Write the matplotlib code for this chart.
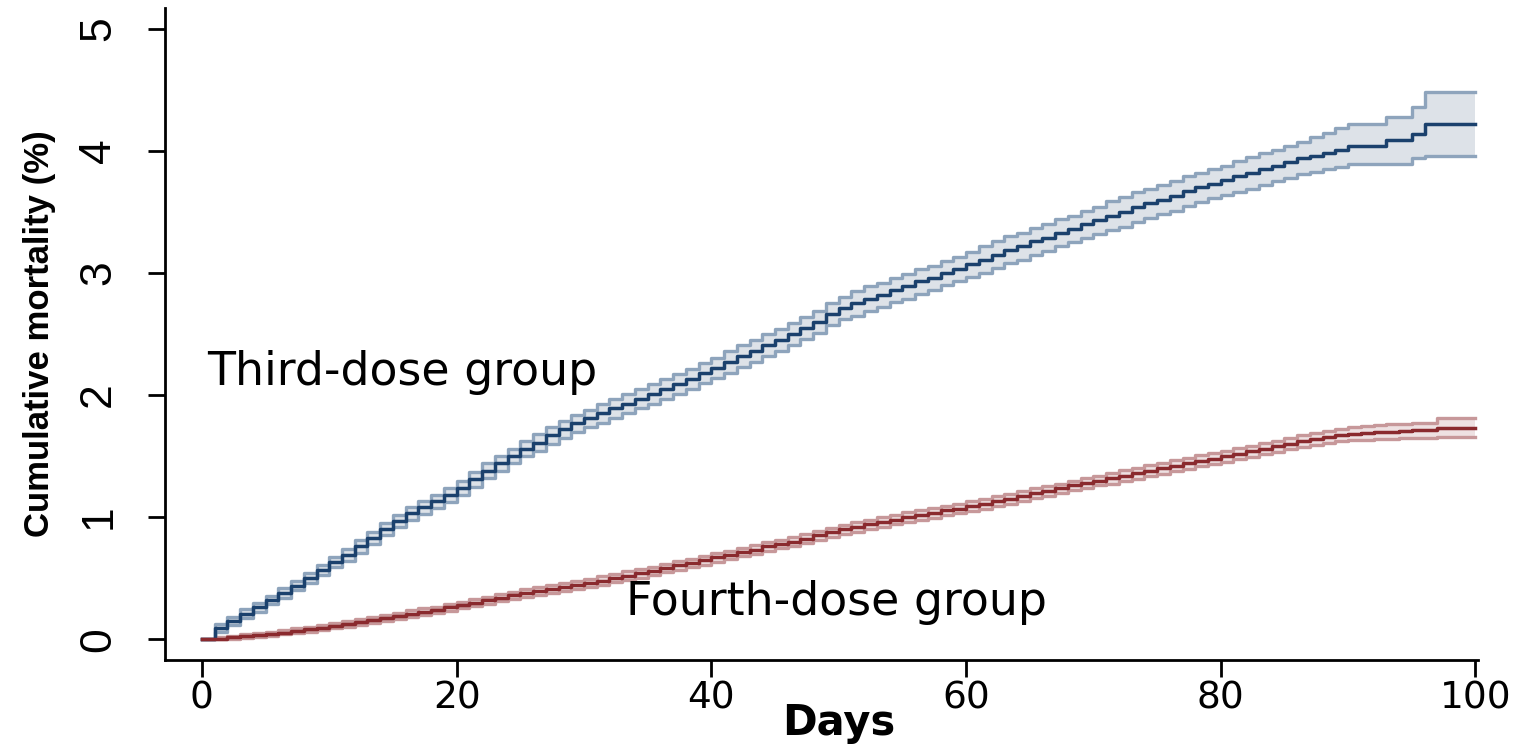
import numpy as np
import matplotlib
matplotlib.use("Agg")
import matplotlib.pyplot as plt
import matplotlib.transforms as mtransforms

# ------------------------------------------------------------
# Data: cumulative mortality (%) by day, step values (day 0..100)
# ------------------------------------------------------------
days = list(range(0, 101))

third_est = [
    0.00, 0.09, 0.15, 0.21, 0.26, 0.32, 0.38, 0.44, 0.50, 0.57,
    0.63, 0.69, 0.76, 0.83, 0.90, 0.97, 1.03, 1.08, 1.13, 1.18,
    1.24, 1.31, 1.38, 1.44, 1.50, 1.56, 1.61, 1.67, 1.72, 1.77,
    1.81, 1.85, 1.89, 1.93, 1.97, 2.01, 2.05, 2.09, 2.13, 2.18,
    2.22, 2.27, 2.32, 2.36, 2.41, 2.45, 2.50, 2.55, 2.60, 2.66,
    2.71, 2.75, 2.79, 2.82, 2.86, 2.89, 2.93, 2.96, 3.00, 3.03,
    3.07, 3.11, 3.15, 3.19, 3.22, 3.26, 3.29, 3.33, 3.36, 3.40,
    3.43, 3.47, 3.50, 3.54, 3.57, 3.60, 3.63, 3.67, 3.70, 3.73,
    3.76, 3.79, 3.82, 3.85, 3.88, 3.91, 3.94, 3.96, 3.98, 4.01,
    4.04, 4.04, 4.04, 4.09, 4.09, 4.14, 4.22, 4.22, 4.22, 4.22, 4.22,
]
third_hi = [
    0.00, 0.125, 0.185, 0.245, 0.295, 0.355, 0.42, 0.48, 0.54, 0.61,
    0.67, 0.74, 0.81, 0.88, 0.95, 1.02, 1.085, 1.135, 1.185, 1.235,
    1.295, 1.37, 1.44, 1.50, 1.56, 1.62, 1.68, 1.74, 1.79, 1.84,
    1.88, 1.93, 1.97, 2.01, 2.05, 2.09, 2.13, 2.17, 2.21, 2.26,
    2.30, 2.36, 2.41, 2.45, 2.50, 2.54, 2.59, 2.64, 2.69, 2.75,
    2.80, 2.85, 2.89, 2.92, 2.96, 2.99, 3.03, 3.06, 3.10, 3.13,
    3.17, 3.22, 3.26, 3.30, 3.33, 3.37, 3.40, 3.44, 3.47, 3.51,
    3.54, 3.59, 3.62, 3.66, 3.69, 3.72, 3.75, 3.79, 3.82, 3.85,
    3.88, 3.92, 3.95, 3.98, 4.01, 4.04, 4.07, 4.11, 4.15, 4.19,
    4.22, 4.22, 4.22, 4.28, 4.28, 4.36, 4.48, 4.48, 4.48, 4.48, 4.48,
]
third_lo = [
    0.00, 0.06, 0.115, 0.175, 0.225, 0.285, 0.34, 0.40, 0.46, 0.53,
    0.59, 0.64, 0.71, 0.78, 0.85, 0.92, 0.975, 1.025, 1.075, 1.125,
    1.185, 1.25, 1.32, 1.38, 1.44, 1.50, 1.54, 1.60, 1.65, 1.70,
    1.74, 1.77, 1.81, 1.85, 1.89, 1.93, 1.97, 2.01, 2.05, 2.10,
    2.14, 2.18, 2.23, 2.27, 2.32, 2.36, 2.41, 2.46, 2.51, 2.57,
    2.62, 2.65, 2.69, 2.72, 2.76, 2.79, 2.83, 2.86, 2.90, 2.93,
    2.97, 3.00, 3.04, 3.08, 3.11, 3.15, 3.18, 3.22, 3.25, 3.29,
    3.32, 3.35, 3.38, 3.42, 3.45, 3.48, 3.51, 3.55, 3.58, 3.61,
    3.64, 3.66, 3.69, 3.72, 3.75, 3.78, 3.81, 3.83, 3.85, 3.87,
    3.89, 3.89, 3.89, 3.89, 3.89, 3.94, 3.96, 3.96, 3.96, 3.96, 3.96,
]

fourth_est = [
    0.00, 0.005, 0.015, 0.025, 0.035, 0.045, 0.055, 0.07, 0.08, 0.095,
    0.11, 0.125, 0.14, 0.16, 0.175, 0.19, 0.21, 0.225, 0.24, 0.26,
    0.28, 0.30, 0.32, 0.34, 0.36, 0.38, 0.395, 0.41, 0.43, 0.445,
    0.46, 0.48, 0.50, 0.52, 0.54, 0.56, 0.585, 0.605, 0.625, 0.645,
    0.67, 0.69, 0.715, 0.735, 0.76, 0.78, 0.80, 0.825, 0.85, 0.875,
    0.90, 0.92, 0.94, 0.96, 0.98, 1.00, 1.015, 1.035, 1.055, 1.07,
    1.09, 1.11, 1.13, 1.15, 1.175, 1.195, 1.215, 1.235, 1.26, 1.28,
    1.30, 1.32, 1.34, 1.36, 1.38, 1.40, 1.42, 1.44, 1.46, 1.48,
    1.50, 1.52, 1.54, 1.56, 1.58, 1.60, 1.62, 1.64, 1.655, 1.67,
    1.68, 1.69, 1.695, 1.70, 1.705, 1.71, 1.71, 1.73, 1.73, 1.73, 1.73,
]
fourth_hi = [
    0.00, 0.015, 0.027, 0.04, 0.05, 0.06, 0.072, 0.088, 0.10, 0.115,
    0.132, 0.148, 0.164, 0.185, 0.20, 0.216, 0.237, 0.252, 0.268, 0.288,
    0.308, 0.33, 0.35, 0.37, 0.39, 0.41, 0.426, 0.442, 0.462, 0.478,
    0.494, 0.514, 0.535, 0.555, 0.575, 0.595, 0.62, 0.64, 0.66, 0.68,
    0.705, 0.725, 0.75, 0.77, 0.795, 0.815, 0.835, 0.86, 0.885, 0.91,
    0.935, 0.958, 0.978, 0.998, 1.018, 1.04, 1.055, 1.075, 1.095, 1.11,
    1.13, 1.15, 1.17, 1.19, 1.215, 1.235, 1.255, 1.275, 1.30, 1.32,
    1.34, 1.365, 1.385, 1.405, 1.425, 1.445, 1.465, 1.485, 1.505, 1.525,
    1.545, 1.565, 1.585, 1.605, 1.625, 1.645, 1.67, 1.69, 1.705, 1.72,
    1.735, 1.745, 1.752, 1.76, 1.765, 1.77, 1.775, 1.81, 1.81, 1.81, 1.81,
]
fourth_lo = [
    0.00, 0.00, 0.005, 0.012, 0.02, 0.03, 0.04, 0.053, 0.062, 0.076,
    0.09, 0.103, 0.117, 0.136, 0.15, 0.165, 0.184, 0.198, 0.212, 0.232,
    0.252, 0.27, 0.29, 0.31, 0.33, 0.35, 0.364, 0.378, 0.398, 0.412,
    0.426, 0.446, 0.465, 0.485, 0.505, 0.525, 0.55, 0.57, 0.59, 0.61,
    0.635, 0.655, 0.68, 0.70, 0.725, 0.745, 0.765, 0.79, 0.815, 0.84,
    0.865, 0.882, 0.902, 0.922, 0.942, 0.96, 0.975, 0.995, 1.015, 1.03,
    1.05, 1.07, 1.09, 1.11, 1.135, 1.155, 1.175, 1.195, 1.22, 1.24,
    1.26, 1.275, 1.295, 1.315, 1.335, 1.355, 1.375, 1.395, 1.415, 1.435,
    1.455, 1.475, 1.495, 1.515, 1.535, 1.555, 1.572, 1.59, 1.605, 1.62,
    1.628, 1.635, 1.64, 1.643, 1.647, 1.65, 1.65, 1.66, 1.66, 1.66, 1.66,
]

x_ticks = [0, 20, 40, 60, 80, 100]
y_ticks = [0, 1, 2, 3, 4, 5]

# ------------------------------------------------------------
# Styles
# ------------------------------------------------------------
groups = [
    ("Third-dose group", third_est, third_lo, third_hi, "#1b416d", "#8ea4bc", "#dde2e8"),
    ("Fourth-dose group", fourth_est, fourth_lo, fourth_hi, "#8a2a2e", "#c7989a", "#eee1e2"),
]
narrow = ["Liberation Sans Narrow", "Liberation Sans", "DejaVu Sans"]

fig = plt.figure(figsize=(15.32, 7.45), dpi=100)
ax = fig.add_axes([165 / 1532, 85 / 745, (1478 - 165) / 1532, (737 - 85) / 745])

for name, est, lo, hi, c_line, c_ci, c_fill in groups:
    ax.fill_between(days, lo, hi, step="post", color=c_fill, linewidth=0, zorder=1)
    ax.step(days, lo, where="post", color=c_ci, linewidth=2.4, zorder=2)
    ax.step(days, hi, where="post", color=c_ci, linewidth=2.4, zorder=2)
    ax.step(days, est, where="post", color=c_line, linewidth=2.5, zorder=3)

ax.set_xlim(-2.9, 100.2)
ax.set_ylim(-0.17, 5.17)
ax.set_xticks(x_ticks)
ax.set_yticks(y_ticks)
ax.set_xticklabels([str(t) for t in x_ticks], fontsize=27, family="DejaVu Sans")
ax.set_yticklabels([str(t) for t in y_ticks], fontsize=32, family=narrow,
                   rotation=90, va="center")

ax.tick_params(axis="both", direction="out", length=12, width=2, color="black")
ax.tick_params(axis="x", pad=3)
ax.tick_params(axis="y", pad=21)

for side in ["top", "right"]:
    ax.spines[side].set_visible(False)
for side in ["left", "bottom"]:
    ax.spines[side].set_linewidth(2)

# Axis titles
blend_x = mtransforms.blended_transform_factory(ax.transData, fig.transFigure)
ax.text(50, 1 / 745, "Days", transform=blend_x, ha="center", va="bottom",
        fontsize=30, fontweight="bold", family="DejaVu Sans")
blend_y = mtransforms.blended_transform_factory(fig.transFigure, ax.transData)
ax.text(23 / 1532, 2.5, "Cumulative mortality (%)", transform=blend_y, rotation=90,
        ha="left", va="center", fontsize=25, fontweight="bold", family=narrow)

# Group labels
ax.text(0.4, 2.08, "Third-dose group", fontsize=33, family="DejaVu Sans",
        ha="left", va="baseline", color="black")
ax.text(33.3, 0.195, "Fourth-dose group", fontsize=33, family="DejaVu Sans",
        ha="left", va="baseline", color="black")

fig.savefig("out.png", dpi=100, facecolor="white")
